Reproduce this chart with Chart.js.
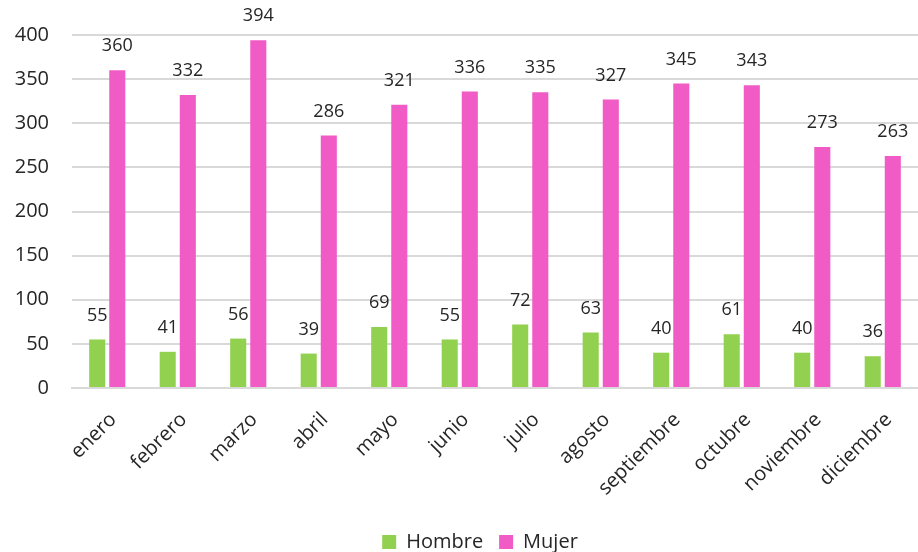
<!DOCTYPE html>
<html lang="es">
<head>
<meta charset="UTF-8">
<title>Hombre / Mujer por mes</title>
<script src="https://cdn.jsdelivr.net/npm/chart.js"></script>
<style>
  html, body { margin: 0; padding: 0; background: #fff; }
  #wrap { width: 918px; height: 552px; }
</style>
</head>
<body>
<div id="wrap"><canvas id="grafico" width="918" height="552"></canvas></div>
<script>
// datos
const meses = ['enero', 'febrero', 'marzo', 'abril', 'mayo', 'junio', 'julio', 'agosto', 'septiembre', 'octubre', 'noviembre', 'diciembre'];
const hombre = [55, 41, 56, 39, 69, 55, 72, 63, 40, 61, 40, 36];
const mujer = [360, 332, 394, 286, 321, 336, 335, 327, 345, 343, 273, 263];
const ticksY = [0, 50, 100, 150, 200, 250, 300, 350, 400];

const fuente = "'Open Sans', 'Noto Sans', sans-serif";

// etiquetas encima de cada barra
const etiquetas = {
  id: 'etiquetas',
  afterDatasetsDraw(chart) {
    const ctx = chart.ctx;
    ctx.save();
    ctx.font = '18px ' + fuente;
    ctx.fillStyle = '#262626';
    ctx.textAlign = 'center';
    ctx.textBaseline = 'middle';
    chart.data.datasets.forEach((ds, i) => {
      chart.getDatasetMeta(i).data.forEach((bar, j) => {
        ctx.fillText(ds.data[j], bar.x, bar.y - 24);
      });
    });
    ctx.restore();
  }
};

// la leyenda del original queda un poco a la izquierda del centro
const moverLeyenda = {
  id: 'moverLeyenda',
  afterLayout(chart) {
    if (chart.legend) chart.legend.left -= 30;
  }
};

new Chart(document.getElementById('grafico'), {
  type: 'bar',
  data: {
    labels: meses,
    datasets: [
      { label: 'Hombre', data: hombre, backgroundColor: '#92d050', barPercentage: 0.8, categoryPercentage: 0.57 },
      { label: 'Mujer', data: mujer, backgroundColor: '#f05bc6', barPercentage: 0.8, categoryPercentage: 0.57 }
    ]
  },
  options: {
    responsive: false,
    animation: false,
    layout: { padding: { top: 34, right: 0, bottom: -10, left: 0 } },
    plugins: {
      tooltip: { enabled: false },
      legend: {
        position: 'bottom',
        fullSize: false,
        labels: {
          font: { family: fuente, size: 20 },
          color: '#262626',
          boxWidth: 14,
          boxHeight: 14,
          padding: 16
        }
      }
    },
    scales: {
      x: {
        grid: { display: false },
        border: { color: '#d9d9d9', width: 2 },
        ticks: {
          minRotation: 45,
          maxRotation: 45,
          color: '#262626',
          font: { family: fuente, size: 20 },
          padding: 12,
          labelOffset: 6
        },
        afterFit(scale) { scale.height = 128; }
      },
      y: {
        min: 0,
        max: 400,
        afterBuildTicks(scale) { scale.ticks = ticksY.map(v => ({ value: v })); },
        grid: { color: '#d9d9d9', lineWidth: 2, drawTicks: false },
        border: { display: false },
        ticks: {
          color: '#262626',
          font: { family: fuente, size: 20 },
          padding: 23
        },
        afterFit(scale) { scale.width = 72; }
      }
    }
  },
  plugins: [etiquetas, moverLeyenda]
});
</script>
</body>
</html>
